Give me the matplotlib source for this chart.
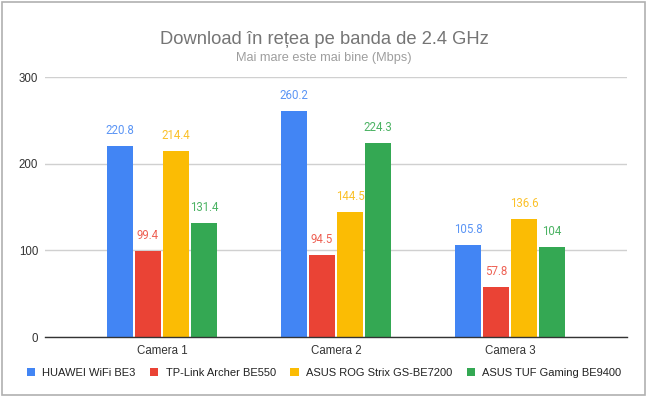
import numpy as np
import matplotlib.pyplot as plt
from matplotlib.patches import Rectangle

cameras = ["Camera 1", "Camera 2", "Camera 3"]
routers = ["HUAWEI WiFi BE3", "TP-Link Archer BE550", "ASUS ROG Strix GS-BE7200", "ASUS TUF Gaming BE9400"]
huawei = [220.8, 260.2, 105.8]
tplink = [99.4, 94.5, 57.8]
rog = [214.4, 144.5, 136.6]
tuf = [131.4, 224.3, 104]
yticks = [0, 100, 200, 300]

colors = ["#4285F4", "#EA4335", "#FBBC04", "#34A853"]
label_colors = ["#5B95F5", "#EE6154", "#FBC12A", "#4CB364"]

plt.rcParams["font.family"] = ["Liberation Sans", "DejaVu Sans"]

fig = plt.figure(figsize=(6.48, 4.0), dpi=100)
ax = fig.add_axes([45 / 648, 63 / 400, 582 / 648, 260 / 400])

x = np.arange(len(cameras))
step = 0.161
series = [huawei, tplink, rog, tuf]
for i, vals in enumerate(series):
    pos = x + (i - 1.5) * step
    bars = ax.bar(pos, vals, width=0.152, color=colors[i], label=routers[i], zorder=3)
    for b, v in zip(bars, vals):
        txt = f"{v:g}"
        ax.annotate(txt, (b.get_x() + b.get_width() / 2, v), xytext=(0, 6.5),
                    textcoords="offset points", ha="center", va="bottom",
                    fontsize=8.3, color=label_colors[i], family=["Roboto", "DejaVu Sans"])

ax.set_xlim(-0.673, 2.673)
ax.set_ylim(0, 300)
ax.set_yticks(yticks)
ax.set_xticks(x)
ax.set_xticklabels(cameras)
ax.grid(axis="y", color="#d0d0d0", linewidth=1, zorder=0)
for s in ["top", "right", "left"]:
    ax.spines[s].set_visible(False)
ax.spines["bottom"].set_color("#333333")
ax.spines["bottom"].set_linewidth(1)
ax.spines["bottom"].set_zorder(4)
ax.tick_params(axis="both", length=0, labelsize=8.3, labelcolor="#333333")
ax.tick_params(axis="x", pad=6)
ax.tick_params(axis="y", pad=5)

fig.text(0.5, 1 - 39.5 / 400, "Download în rețea pe banda de 2.4 GHz", ha="center", va="center",
         fontsize=13.2, color="#757575")
fig.text(0.5, 1 - 58 / 400, "Mai mare este mai bine (Mbps)", ha="center", va="center",
         fontsize=9.2, color="#9e9e9e")

fig.legend(loc="center", bbox_to_anchor=(0.5, 1 - 373 / 400), ncol=4, frameon=False,
           fontsize=8, handlelength=0.75, handleheight=0.75, handletextpad=0.65,
           columnspacing=1.3, labelcolor="#222222")

fig.patches.append(Rectangle((2 / 648, 5 / 400), 643 / 648, 393 / 400, transform=fig.transFigure,
                             fill=False, edgecolor="#b0b0b0", linewidth=1.2))

fig.savefig("out.png", dpi=100)
